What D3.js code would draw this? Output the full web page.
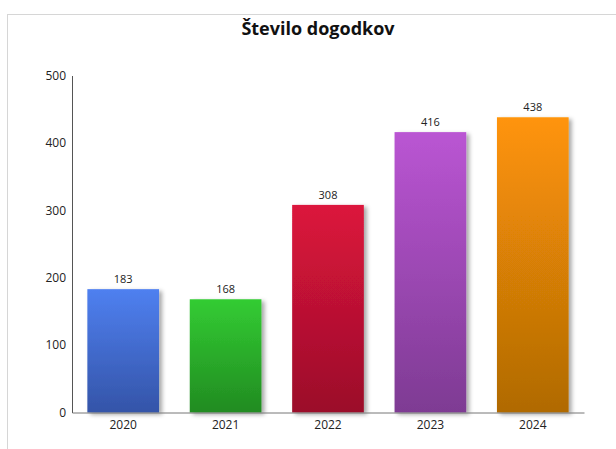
<!DOCTYPE html>
<html><head><meta charset="utf-8">
<script src="https://cdn.jsdelivr.net/npm/d3@7"></script>
<style>
html,body{margin:0;padding:0;background:#fff;overflow:hidden;}
svg{display:block;font-family:"Open Sans","Noto Sans",sans-serif;}
</style></head><body>
<svg id="c" width="616" height="449"></svg>
<script>
const categories = ["2020","2021","2022","2023","2024"];
const values = [183,168,308,416,438];
const colorTop = ["#4f80f0","#33cc33","#dc143c","#ba55d3","#ff9408"];
const colorBottom = ["#3454a8","#218b21","#9b0e2a","#7e3b93","#b06a05"];
const yTicks = [0,100,200,300,400,500];
const title = "Število dogodkov";

const svg = d3.select("#c");
// frame
svg.append("rect").attr("x",7.5).attr("y",14.5).attr("width",640).attr("height",460)
  .attr("fill","none").attr("stroke","#d6d6d6");

const defs = svg.append("defs");
categories.forEach((c,i)=>{
  const g = defs.append("linearGradient").attr("id","g"+i).attr("x1",0).attr("y1",0).attr("x2",0).attr("y2",1);
  g.append("stop").attr("offset","0%").attr("stop-color",colorTop[i]);
  g.append("stop").attr("offset","100%").attr("stop-color",colorBottom[i]);
});
const f = defs.append("filter").attr("id","sh").attr("x","-20%").attr("y","-20%").attr("width","150%").attr("height","150%");
f.append("feDropShadow").attr("dx",3).attr("dy",2).attr("stdDeviation",2).attr("flood-color","#000").attr("flood-opacity",0.35);

const x = d3.scaleBand().domain(categories).range([72,584]).paddingInner(0.3).paddingOuter(0.15);
const y = d3.scaleLinear().domain([0,500]).range([412.5,75.5]);

svg.append("text").attr("x",318).attr("y",35).attr("text-anchor","middle")
  .attr("font-size",18).attr("font-weight","bold").attr("fill","#111").text(title);

svg.selectAll("rect.bar").data(values).join("rect").attr("class","bar")
  .attr("x",(d,i)=>x(categories[i])).attr("width",x.bandwidth())
  .attr("y",d=>y(d)).attr("height",d=>y(0)-y(d))
  .attr("fill",(d,i)=>`url(#g${i})`).attr("filter","url(#sh)");

svg.selectAll("text.val").data(values).join("text").attr("class","val")
  .attr("x",(d,i)=>x(categories[i])+x.bandwidth()/2).attr("y",d=>y(d)-6)
  .attr("text-anchor","middle").attr("font-size",11).attr("fill","#222").text(d=>d);

const ya = d3.axisLeft(y).tickValues(yTicks).tickSize(0).tickPadding(6);
const gy = svg.append("g").attr("transform","translate(72,0)").call(ya);
gy.select(".domain").attr("stroke","#555");
gy.selectAll("text").attr("font-size",12).attr("fill","#222").attr("font-family","'Open Sans',sans-serif");

const xa = d3.axisBottom(x).tickSize(0).tickPadding(8);
const gx = svg.append("g").attr("transform","translate(0,412.5)").call(xa);
gx.select(".domain").attr("stroke","#777");
gx.selectAll("text").attr("font-size",12).attr("fill","#222").attr("font-family","'Open Sans',sans-serif");
</script></body></html>
